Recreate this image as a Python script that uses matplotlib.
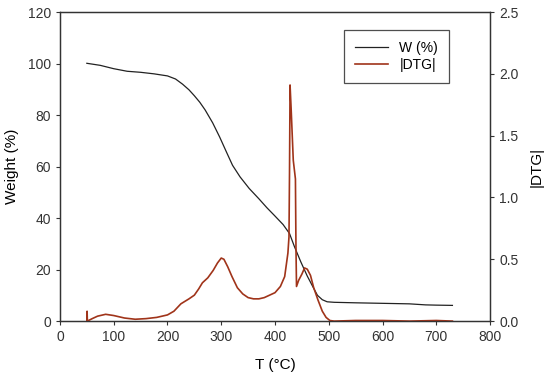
import matplotlib
matplotlib.use('Agg')
import matplotlib.pyplot as plt

plt.rcParams['font.family'] = ['Liberation Sans', 'DejaVu Sans']

# weight curve (T in degC, weight in %)
w_temp = [50, 75, 100, 125, 150, 175, 200, 215, 228, 240, 250, 260, 270, 284, 297, 310,
          321, 335, 352, 370, 385, 399, 415, 427, 436, 448, 460, 470, 479, 488, 497,
          510, 550, 600, 650, 680, 700, 730]
w_val = [100.1, 99.3, 98.0, 97.0, 96.6, 96.0, 95.2, 94.0, 92.0, 89.8, 87.5, 85.0, 82.0, 77.0,
         71.5, 65.5, 60.5, 56.0, 51.5, 47.5, 44.0, 41.0, 37.5, 34.0, 29.0, 23.0, 17.5,
         13.5, 10.0, 8.3, 7.5, 7.3, 7.1, 6.9, 6.7, 6.3, 6.2, 6.1]

# |DTG| curve
d_temp = [50, 50.5, 51, 60, 70, 85, 100, 120, 140, 160, 180, 200, 212, 225, 240, 250, 258,
          265, 275, 285, 293, 300, 305, 312, 320, 330, 340, 350, 360, 370, 380, 390,
          400, 410, 418, 424, 426, 427, 428, 430, 434, 438, 439, 440, 444, 450, 455,
          460, 466, 472, 480, 488, 495, 502, 510, 550, 600, 650, 700, 730]
d_val = [0.0, 0.08, 0.0, 0.02, 0.04, 0.055, 0.045, 0.025, 0.015, 0.02, 0.03, 0.05, 0.08,
         0.14, 0.18, 0.21, 0.26, 0.31, 0.35, 0.41, 0.47, 0.51, 0.5, 0.44, 0.36, 0.27,
         0.22, 0.19, 0.18, 0.18, 0.19, 0.21, 0.23, 0.28, 0.36, 0.55, 0.68, 1.2, 1.91,
         1.72, 1.3, 1.15, 0.6, 0.28, 0.33, 0.38, 0.43, 0.42, 0.37, 0.27, 0.17, 0.08,
         0.03, 0.005, 0.0, 0.005, 0.005, 0.0, 0.005, 0.0]

fig = plt.figure(figsize=(5.5, 3.76), dpi=100)
ax = fig.add_axes([0.109, 0.146, 0.782, 0.822])
ax2 = ax.twinx()

l1, = ax.plot(w_temp, w_val, color='#222222', lw=0.9, label='W (%)')
l2, = ax2.plot(d_temp, d_val, color='#a0341a', lw=1.2, label='|DTG|')

ax.set_xlim(0, 800)
ax.set_ylim(0, 120)
ax2.set_ylim(0, 2.5)
ax.set_xticks(range(0, 801, 100))
ax.set_yticks(range(0, 121, 20))
ax2.set_yticks([0.0, 0.5, 1.0, 1.5, 2.0, 2.5])
ax2.set_yticklabels(['0.0', '0.5', '1.0', '1.5', '2.0', '2.5'])

for a in (ax, ax2):
    a.tick_params(direction='out', length=3, width=0.8, labelsize=10, colors='#333333',
                  labelcolor='#333333')
    for s in a.spines.values():
        s.set_color('#333333')
        s.set_linewidth(0.9)

ax.set_xlabel('T (\u00b0C)', fontsize=11, labelpad=10)
ax.set_ylabel('Weight (%)', fontsize=11, labelpad=6)
ax2.set_ylabel('|DTG|', fontsize=11, labelpad=8)

leg = ax.legend(handles=[l1, l2], loc='upper left', bbox_to_anchor=(0.66, 0.942),
                borderaxespad=0, fontsize=10, frameon=True, fancybox=False,
                borderpad=0.8, handlelength=2.4, handletextpad=0.8, labelspacing=0.2)
leg.get_frame().set_edgecolor('#222222')
leg.get_frame().set_linewidth(0.9)

fig.savefig('out.png', dpi=100)
